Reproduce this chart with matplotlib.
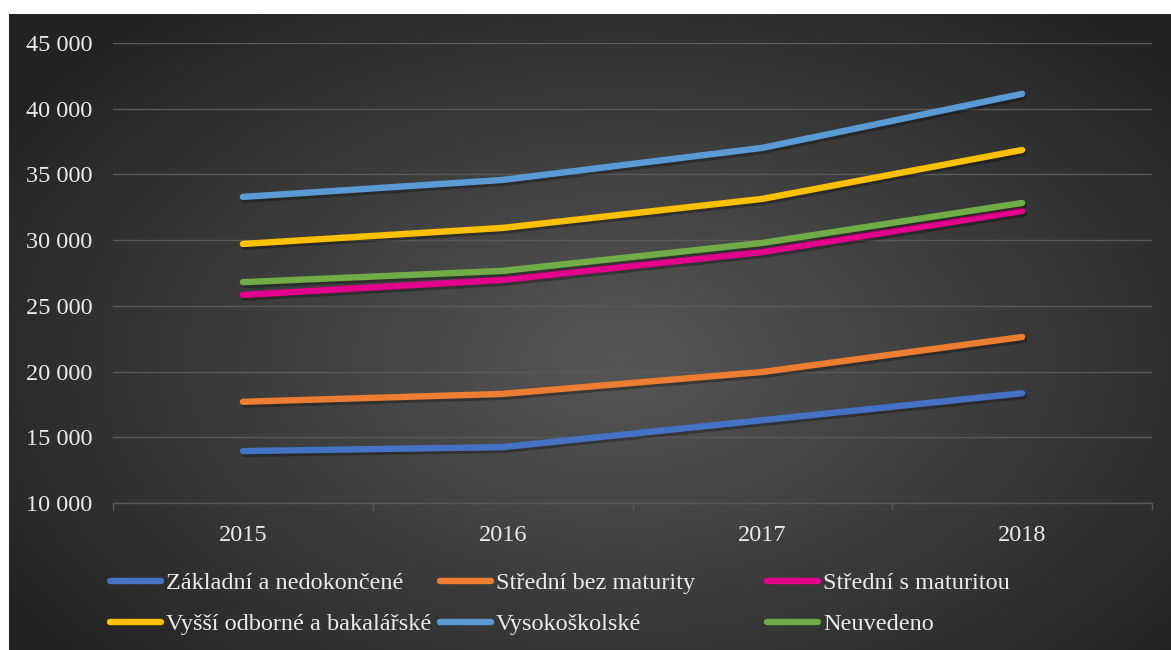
import numpy as np
import matplotlib.pyplot as plt
from matplotlib.lines import Line2D
from matplotlib.ticker import FuncFormatter, FixedLocator
import matplotlib.patheffects as pe

plt.rcParams['font.family'] = ['Liberation Serif', 'DejaVu Serif']

# data
years = ["2015", "2016", "2017", "2018"]
zakladni = [13950, 14250, 16300, 18350]
stredni_bez = [17700, 18300, 19970, 22630]
stredni_s = [25830, 26970, 29100, 32220]
vyssi = [29710, 30930, 33140, 36860]
vysokoskolske = [33290, 34580, 37020, 41130]
neuvedeno = [26800, 27660, 29790, 32830]

series = [
    ("Základní a nedokončené", zakladni, "#4472C4"),
    ("Střední bez maturity", stredni_bez, "#ED7D31"),
    ("Střední s maturitou", stredni_s, "#E3008C"),
    ("Vyšší odborné a bakalářské", vyssi, "#FFC000"),
    ("Vysokoškolské", vysokoskolske, "#5B9BD5"),
    ("Neuvedeno", neuvedeno, "#70AD47"),
]

W, H = 1171, 650
fig = plt.figure(figsize=(W / 100, H / 100), dpi=100)
fig.patch.set_facecolor("white")

# dark radial gradient background
bg = fig.add_axes([9 / W, 0, 1 - 9 / W, 636 / H])
bg.set_axis_off()
gx, gy = np.meshgrid(np.linspace(9, W, 400), np.linspace(14, H, 250))
r = np.sqrt(((gx - 620) / 720) ** 2 + ((gy - 360) / 450) ** 2)
f = np.clip(1 - r, 0, 1) ** 1.0
shade = 0.14 + (0.34 - 0.14) * f
img = np.dstack([shade, shade, shade])
bg.imshow(img, aspect="auto", extent=(0, 1, 0, 1), origin="upper")

ax = fig.add_axes([113 / W, 1 - 503 / H, (1152 - 113) / W, (503 - 43) / H])
ax.patch.set_alpha(0)

x = np.arange(len(years))
for name, vals, col in series:
    ax.plot(x, vals, color=col, lw=4.6, solid_capstyle="round", solid_joinstyle="round",
            path_effects=[pe.SimpleLineShadow(offset=(1.2, -2.0), shadow_color="black", alpha=0.3),
                          pe.Normal()], zorder=3)

ax.set_xlim(-0.5, len(years) - 0.5)
ax.set_ylim(10000, 45000)
ax.set_yticks(np.arange(10000, 45001, 5000))
ax.yaxis.set_major_formatter(FuncFormatter(lambda v, p: f"{int(v):,}".replace(",", " ")))
ax.set_xticks(x)
ax.set_xticklabels(years)
ax.xaxis.set_minor_locator(FixedLocator(np.arange(-0.5, len(years), 1.0)))

ax.grid(axis="y", color="#5a5a5a", lw=1.0)
ax.set_axisbelow(True)
for s in ["top", "right", "left"]:
    ax.spines[s].set_visible(False)
ax.spines["bottom"].set_color("#5a5a5a")
ax.spines["bottom"].set_linewidth(1.0)

ax.tick_params(axis="y", length=0, pad=15, labelsize=17.5, labelcolor="#ebebeb")
ax.tick_params(axis="x", which="major", length=0, pad=16, labelsize=17.5, labelcolor="#ebebeb")
ax.tick_params(axis="x", which="minor", length=5, width=1, color="#5a5a5a", direction="out")

# legend, three columns placed like the original
cols_x = [110, 440, 767]
for i, cx in enumerate(cols_x):
    items = [series[i], series[i + 3]]
    handles = [Line2D([], [], color=c, lw=4.6, solid_capstyle="round") for _, _, c in items]
    leg = fig.legend(handles, [n for n, _, _ in items], loc="upper left",
                     bbox_to_anchor=(cx / W, 1 - 572 / H), frameon=False, fontsize=17.5,
                     handlelength=2.1, handletextpad=0.2, labelspacing=0.8, borderpad=0,
                     borderaxespad=0)
    for t in leg.get_texts():
        t.set_color("#ebebeb")

fig.savefig("out.png", dpi=100)
